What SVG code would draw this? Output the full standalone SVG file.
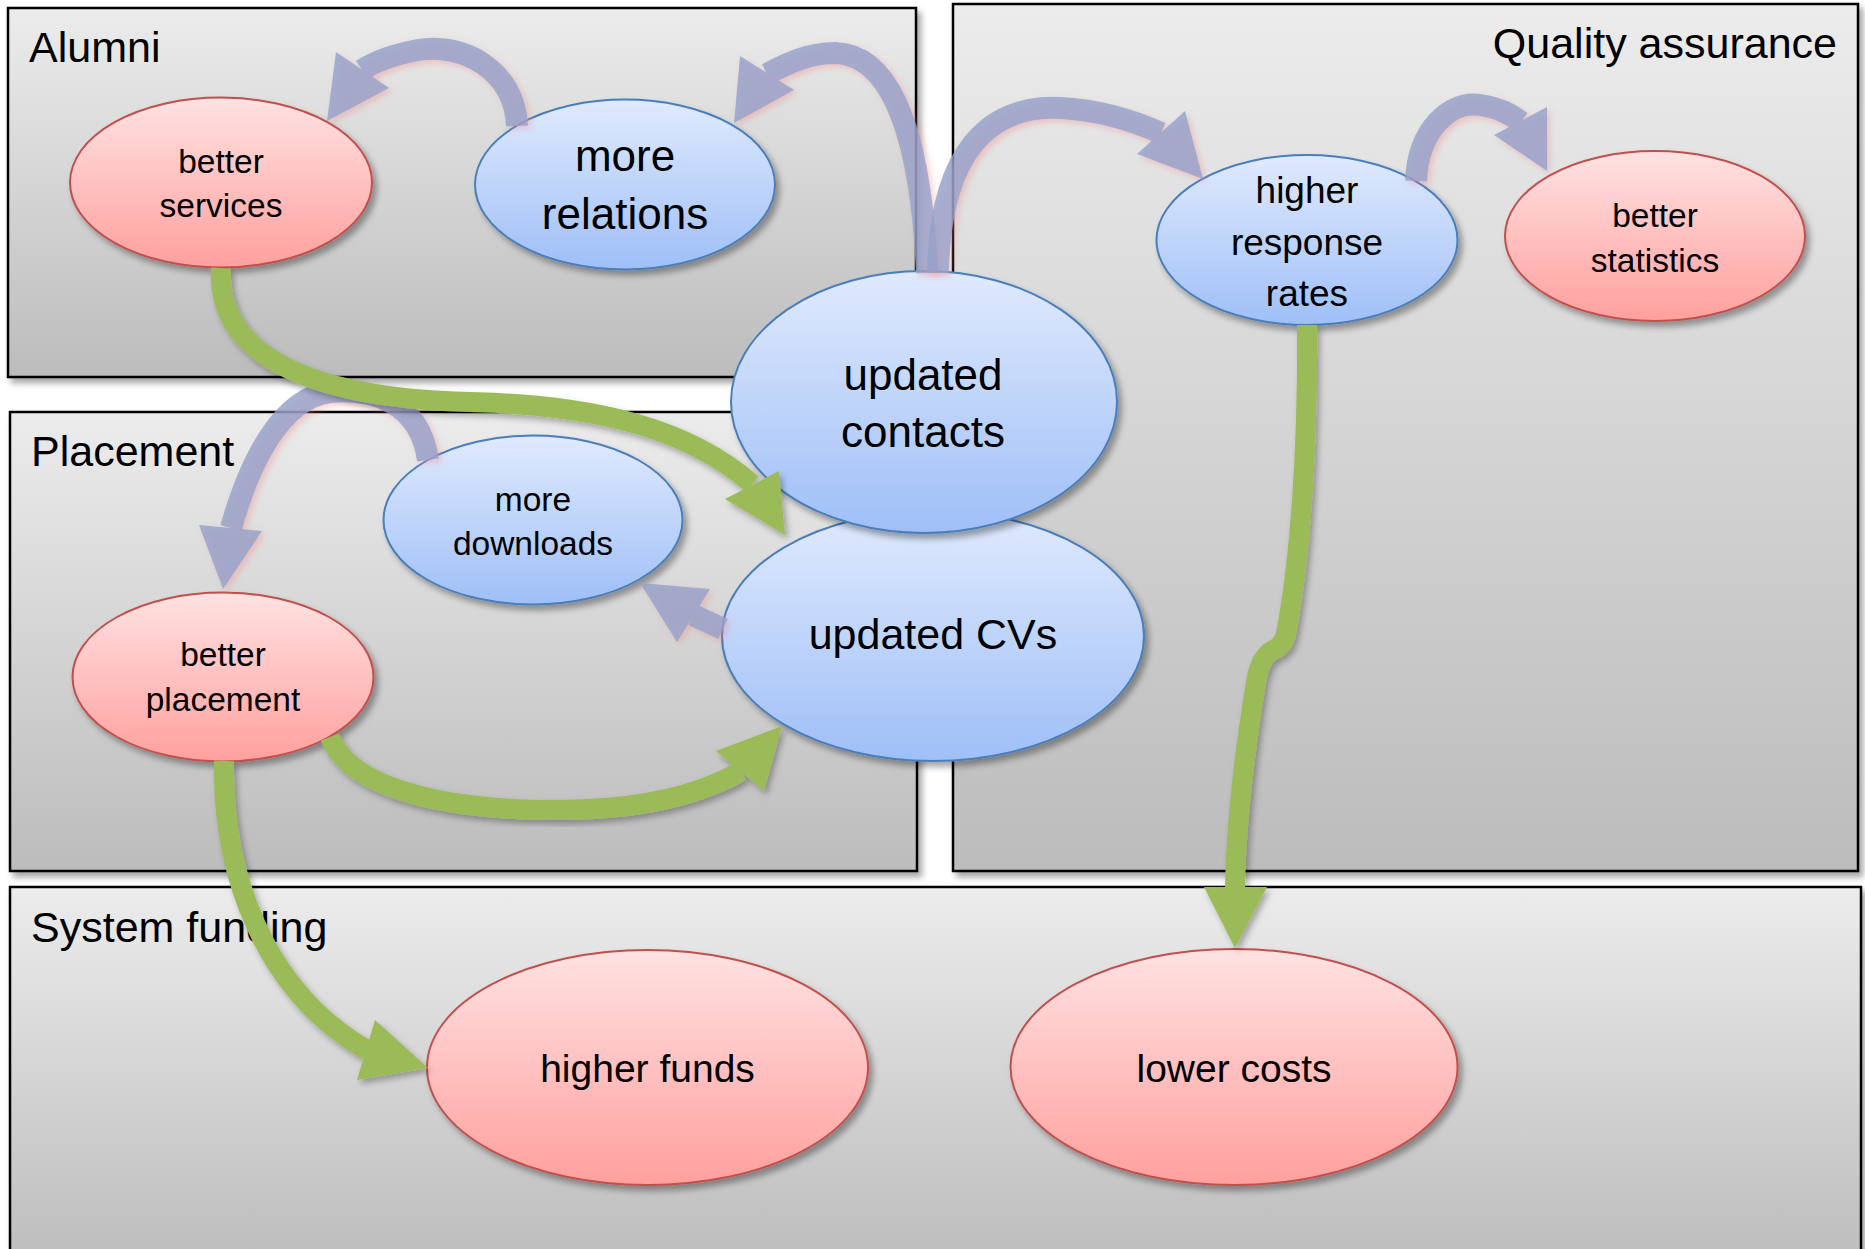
<svg xmlns="http://www.w3.org/2000/svg" width="1865" height="1249" viewBox="0 0 1865 1249">
<defs>
  <linearGradient id="gBox" x1="0" y1="0" x2="0" y2="1">
    <stop offset="0" stop-color="#ececec"/>
    <stop offset="1" stop-color="#bcbcbc"/>
  </linearGradient>
  <linearGradient id="gBlue" x1="0" y1="0" x2="0" y2="1">
    <stop offset="0" stop-color="#e0eafd"/>
    <stop offset="1" stop-color="#9fbff7"/>
  </linearGradient>
  <linearGradient id="gRed" x1="0" y1="0" x2="0" y2="1">
    <stop offset="0" stop-color="#ffe2e2"/>
    <stop offset="1" stop-color="#ffa09e"/>
  </linearGradient>
  <filter id="shadow" x="-10%" y="-10%" width="130%" height="130%">
    <feDropShadow dx="4" dy="5" stdDeviation="3" flood-color="#000" flood-opacity="0.35"/>
  </filter>
  <filter id="glow" x="-20%" y="-20%" width="140%" height="140%">
    <feDropShadow dx="3" dy="3" stdDeviation="3" flood-color="#f08080" flood-opacity="0.45"/>
  </filter>
  <filter id="gshadow" x="-20%" y="-20%" width="140%" height="140%">
    <feDropShadow dx="3" dy="4" stdDeviation="3" flood-color="#000" flood-opacity="0.3"/>
  </filter>
</defs>
<style>
  .box{fill:url(#gBox);stroke:#000;stroke-width:2.5;filter:url(#shadow)}
  .lbl{font-family:"Liberation Sans",Arial,sans-serif;font-size:43px;fill:#000}
  .bn{fill:url(#gBlue);stroke:#4a7ebb;stroke-width:2;filter:url(#shadow)}
  .rn{fill:url(#gRed);stroke:#c0504d;stroke-width:2;filter:url(#shadow)}
  .t{font-family:"Liberation Sans",Arial,sans-serif;text-anchor:middle;fill:#000}
  .s{font-size:33.5px}
  .m{font-size:37px}
  .l{font-size:44px}
  .f{font-size:39px}
  .bs path{fill:none;stroke:#92a2cb;stroke-width:22}
  .bs polygon{fill:#92a2cb}
  .gs path{fill:none;stroke:#9bbb59;stroke-width:20}
  .gs polygon{fill:#9bbb59}
</style>

<g id="boxes">
  <g id="box-alumni">
    <rect class="box" x="8" y="8" width="908" height="369"/>
    <text class="lbl" x="29" y="62">Alumni</text>
  </g>
  <g id="box-placement">
    <rect class="box" x="10" y="412" width="907" height="459"/>
    <text class="lbl" x="31" y="466">Placement</text>
  </g>
  <g id="box-quality">
    <rect class="box" x="953" y="4" width="905" height="867"/>
    <text class="lbl" x="1837" y="58" text-anchor="end">Quality assurance</text>
  </g>
  <g id="box-funding">
    <rect class="box" x="10" y="887" width="1851" height="380"/>
    <text class="lbl" x="31" y="942">System funding</text>
  </g>
</g>

<g id="nodes">
  <g id="n-better-services">
    <ellipse class="rn" cx="221" cy="182.5" rx="151" ry="85"/>
    <text class="t s" x="221" y="173">better</text>
    <text class="t s" x="221" y="217">services</text>
  </g>
  <g id="n-more-relations">
    <ellipse class="bn" cx="625" cy="184.5" rx="150" ry="85"/>
    <text class="t l" x="625" y="171">more</text>
    <text class="t l" x="625" y="229">relations</text>
  </g>
  <g id="n-updated-cvs">
    <ellipse class="bn" cx="933" cy="636" rx="211" ry="125"/>
    <text class="t" style="font-size:43px" x="933" y="649">updated CVs</text>
  </g>
  <g id="n-updated-contacts">
    <ellipse class="bn" cx="924" cy="402" rx="193" ry="131"/>
    <text class="t l" x="923" y="390">updated</text>
    <text class="t l" x="923" y="447">contacts</text>
  </g>
  <g id="n-higher-response">
    <ellipse class="bn" cx="1307" cy="240" rx="150.5" ry="85"/>
    <text class="t m" x="1307" y="203">higher</text>
    <text class="t m" x="1307" y="255">response</text>
    <text class="t m" x="1307" y="306">rates</text>
  </g>
  <g id="n-better-statistics">
    <ellipse class="rn" cx="1655" cy="236" rx="150" ry="85"/>
    <text class="t s" x="1655" y="227">better</text>
    <text class="t s" x="1655" y="272">statistics</text>
  </g>
  <g id="n-more-downloads">
    <ellipse class="bn" cx="533" cy="520" rx="149.5" ry="84.5"/>
    <text class="t s" x="533" y="511">more</text>
    <text class="t s" x="533" y="555">downloads</text>
  </g>
  <g id="n-better-placement">
    <ellipse class="rn" cx="223" cy="677" rx="150.5" ry="84.5"/>
    <text class="t s" x="223" y="666">better</text>
    <text class="t s" x="223" y="711">placement</text>
  </g>
  <g id="n-higher-funds">
    <ellipse class="rn" cx="647.5" cy="1067.5" rx="220.5" ry="117.5"/>
    <text class="t f" x="647.5" y="1082">higher funds</text>
  </g>
  <g id="n-lower-costs">
    <ellipse class="rn" cx="1234" cy="1067" rx="223.5" ry="118"/>
    <text class="t f" x="1234" y="1082">lower costs</text>
  </g>
</g>

<g id="connectors">
  <g filter="url(#glow)">
    <g class="bs" opacity="0.8">
      <path d="M 517 126 C 515 70, 462 42, 418 50 C 392 55, 374 62, 362 70"/>
      <polygon points="336,52 389,88 327,121"/>
    </g>
  </g>
  <g filter="url(#glow)">
    <g class="bs" opacity="0.8">
      <path d="M 927 273 C 922 160, 900 55, 835 53 C 810 53, 790 62, 767 74"/>
      <polygon points="740,56 794,90 734,123"/>
    </g>
  </g>
  <g filter="url(#glow)">
    <g class="bs" opacity="0.8">
      <path d="M 938 273 C 940 150, 990 105, 1060 108 C 1100 110, 1132 120, 1161 133"/>
      <polygon points="1137,154 1185,111 1203,179"/>
    </g>
  </g>
  <g filter="url(#glow)">
    <g class="bs" opacity="0.8">
      <path d="M 1416 181 C 1418 130, 1450 100, 1480 105 C 1500 108, 1510 114, 1521 122"/>
      <polygon points="1494,135 1547,107 1547,171"/>
    </g>
  </g>
  <g filter="url(#glow)">
    <g class="bs" opacity="0.8">
      <path d="M 428 460 C 420 402, 372 388, 330 392 C 282 398, 250 460, 231 528"/>
      <polygon points="199,525 262,531 223,589"/>
    </g>
  </g>
  <g filter="url(#glow)">
    <g class="bs" opacity="0.8">
      <path d="M 723 629 L 693 615"/>
      <polygon points="710,589 677,642 640,583"/>
    </g>
  </g>

  <g class="gs" filter="url(#gshadow)">
    <path d="M 221 268 C 216 350, 300 398, 470 402 C 600 405, 690 430, 752 484"/>
    <polygon points="725,499 779,471 785,535"/>
  </g>
  <g class="gs" filter="url(#gshadow)">
    <path d="M 330 737 C 350 790, 450 810, 555 810 C 640 810, 700 795, 741 771"/>
    <polygon points="716,751 764,791 782,726"/>
  </g>
  <g class="gs" filter="url(#gshadow)">
    <path d="M 224 761 C 222 870, 262 990, 367 1050"/>
    <polygon points="375,1020 357,1080 428,1068"/>
  </g>
  <g class="gs" filter="url(#gshadow)">
    <path d="M 1307 325 C 1308 450, 1300 560, 1286 634 Q 1283 646, 1273 650 Q 1260 657, 1256 682 C 1245 750, 1236 820, 1235 888"/>
    <polygon points="1204,887 1267,887 1235,948"/>
  </g>
</g>
</svg>
